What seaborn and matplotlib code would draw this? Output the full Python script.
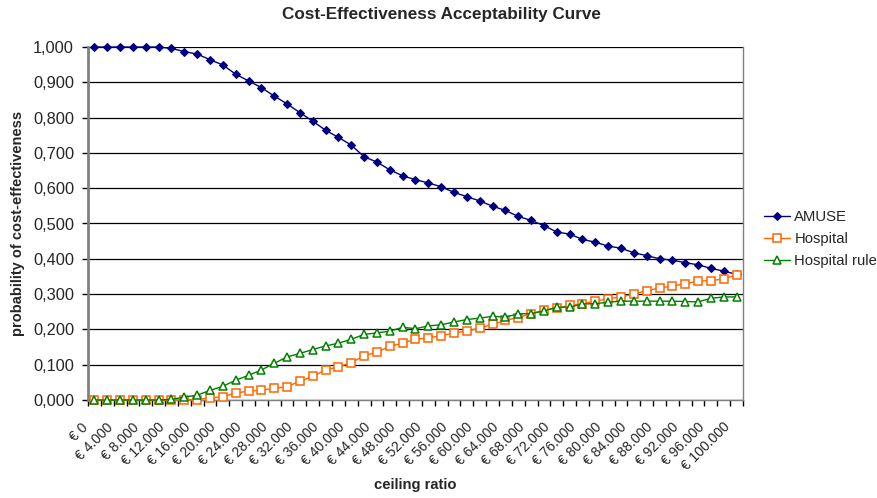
import matplotlib
matplotlib.use("Agg")
import matplotlib.pyplot as plt
import matplotlib.transforms as mtransforms
import seaborn as sns
import numpy as np
import pandas as pd
from matplotlib.ticker import FixedLocator, FixedFormatter

# ---- data ----
ceiling = list(range(0, 100001, 2000))

amuse = [1.000, 1.000, 1.000, 1.000, 1.000, 1.000, 0.996, 0.987, 0.980, 0.964,
         0.949, 0.923, 0.904, 0.885, 0.861, 0.839, 0.814, 0.790, 0.764, 0.744,
         0.722, 0.689, 0.674, 0.652, 0.635, 0.624, 0.615, 0.604, 0.588, 0.576,
         0.564, 0.549, 0.537, 0.520, 0.509, 0.494, 0.476, 0.470, 0.455, 0.447,
         0.436, 0.430, 0.417, 0.409, 0.400, 0.396, 0.389, 0.383, 0.373, 0.365,
         0.356]

hospital = [0.000, 0.000, 0.000, 0.000, 0.000, 0.000, 0.000, 0.001, 0.001, 0.006,
            0.009, 0.020, 0.025, 0.028, 0.033, 0.038, 0.053, 0.067, 0.085, 0.094,
            0.106, 0.125, 0.136, 0.152, 0.161, 0.172, 0.176, 0.182, 0.190, 0.195,
            0.204, 0.214, 0.226, 0.233, 0.245, 0.254, 0.261, 0.268, 0.273, 0.280,
            0.287, 0.292, 0.300, 0.310, 0.317, 0.323, 0.329, 0.337, 0.338, 0.343,
            0.354]

hospital_rule = [0.000, 0.000, 0.000, 0.000, 0.000, 0.000, 0.002, 0.008, 0.014, 0.027,
                 0.039, 0.056, 0.070, 0.085, 0.104, 0.122, 0.132, 0.143, 0.153, 0.161,
                 0.172, 0.186, 0.190, 0.195, 0.206, 0.202, 0.210, 0.213, 0.221, 0.228,
                 0.232, 0.237, 0.235, 0.244, 0.245, 0.252, 0.263, 0.263, 0.272, 0.273,
                 0.277, 0.280, 0.280, 0.280, 0.280, 0.280, 0.279, 0.278, 0.288, 0.292,
                 0.292]

series_names = ["AMUSE", "Hospital", "Hospital rule"]
x_label_values = list(range(0, 100001, 4000))
x_tick_labels = ["€ " + f"{v:,}".replace(",", ".") for v in x_label_values]
y_tick_values = [round(i * 0.1, 1) for i in range(11)]
y_tick_labels = [f"{v:.3f}".replace(".", ",") for v in y_tick_values]

title = "Cost-Effectiveness Acceptability Curve"
xlabel = "ceiling ratio"
ylabel = "probability of cost-effectiveness"

# ---- plotting ----
sns.set_theme(style="white")
plt.rcParams["font.family"] = ["Liberation Sans", "DejaVu Sans"]

fig = plt.figure(figsize=(8.78, 4.98), dpi=100)
ax = fig.add_axes([88 / 878, 1 - 400 / 498, (743 - 88) / 878, (400 - 47) / 498])

df = pd.DataFrame({"ceiling": ceiling, "AMUSE": amuse,
                   "Hospital": hospital, "Hospital rule": hospital_rule})

styles = {
    "AMUSE": dict(color="#000080", marker="D", markersize=4.5,
                  markerfacecolor="#000080", markeredgecolor="#000080"),
    "Hospital": dict(color="#FF6600", marker="s", markersize=5.5,
                     markerfacecolor="white", markeredgecolor="#FF6600",
                     markeredgewidth=1.1),
    "Hospital rule": dict(color="#008000", marker="^", markersize=6,
                          markerfacecolor="white", markeredgecolor="#008000",
                          markeredgewidth=1.1),
}

for name in series_names:
    sns.lineplot(data=df, x="ceiling", y=name, ax=ax, label=name,
                 linewidth=1.0, clip_on=False, zorder=3, **styles[name])

ax.set_xlim(-1000, 101000)
ax.set_ylim(0, 1.0)

# y axis
ax.yaxis.set_major_locator(FixedLocator(y_tick_values))
ax.yaxis.set_major_formatter(FixedFormatter(y_tick_labels))
ax.tick_params(axis="y", which="major", direction="out", length=4.5, width=1,
               color="black", labelsize=11.8, pad=5.5, left=True)
ax.grid(axis="y", color="black", linewidth=0.9)
ax.grid(axis="x", visible=False)

# x axis: labels at categories, tick marks between categories
ax.xaxis.set_major_locator(FixedLocator(x_label_values))
ax.xaxis.set_major_formatter(FixedFormatter(x_tick_labels))
ax.xaxis.set_minor_locator(FixedLocator(np.arange(-1000, 101001, 2000)))
ax.tick_params(axis="x", which="major", length=0, labelsize=10, pad=0, bottom=True)
ax.tick_params(axis="x", which="minor", direction="out", length=4.5, width=1,
               color="black", bottom=True)
offset = mtransforms.ScaledTranslation(-9 / 100, -25 / 100, fig.dpi_scale_trans)
for lab in ax.get_xticklabels():
    lab.set_rotation(45)
    lab.set_ha("right")
    lab.set_va("center")
    lab.set_rotation_mode("anchor")
    lab.set_transform(lab.get_transform() + offset)

ax.spines["left"].set_color("#808080")
ax.spines["left"].set_linewidth(2)
ax.spines["right"].set_color("#808080")
ax.spines["right"].set_linewidth(1)
ax.spines["top"].set_visible(False)
ax.spines["bottom"].set_color("#808080")
ax.spines["bottom"].set_linewidth(1)

ax.set_xlabel("")
ax.set_ylabel("")
fig.text(441 / 878, 1 - 15 / 498, title, ha="center", va="center",
         fontsize=12.3, fontweight="bold")
fig.text(415 / 878, 1 - 485 / 498, xlabel, ha="center", va="center",
         fontsize=10.6, fontweight="bold")
fig.text(18 / 878, 1 - 223 / 498, ylabel, ha="center", va="center",
         rotation=90, fontsize=10.5, fontweight="bold")

leg = ax.legend(loc="center left", bbox_to_anchor=(764 / 878, 1 - 239 / 498),
                bbox_transform=fig.transFigure, frameon=False, fontsize=10.7,
                handlelength=1.75, handletextpad=0.3, labelspacing=0.55,
                borderaxespad=0, borderpad=0)

fig.savefig("out.png", dpi=100)
